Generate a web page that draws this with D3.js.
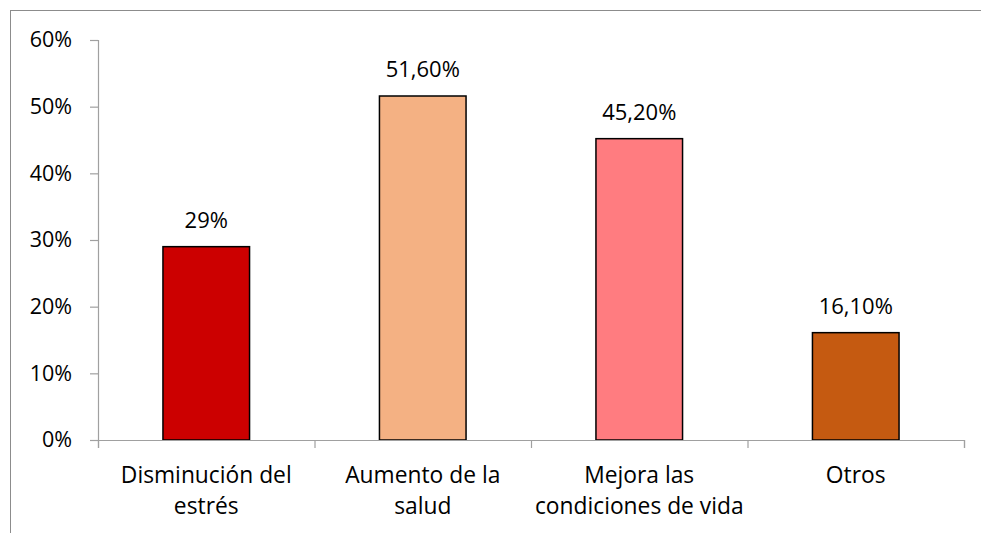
<!DOCTYPE html>
<html><head><meta charset="utf-8">
<script src="https://cdn.jsdelivr.net/npm/d3@7"></script>
<style>
html,body{margin:0;padding:0;background:#fff;}
svg{display:block;}
text{font-family:"Open Sans",Lato,sans-serif;fill:#000;}
</style></head>
<body>
<script>
const categories = ["Disminución del estrés", "Aumento de la salud", "Mejora las condiciones de vida", "Otros"];
const categoryLines = [["Disminución del", "estrés"], ["Aumento de la", "salud"], ["Mejora las", "condiciones de vida"], ["Otros"]];
const values = [29, 51.6, 45.2, 16.1];
const valueLabels = ["29%", "51,60%", "45,20%", "16,10%"];
const barColors = ["#CC0000", "#F4B183", "#FF7C80", "#C55A11"];
const yTicks = [0, 10, 20, 30, 40, 50, 60];

const W = 981, H = 533;
const mLeft = 98, mRight = 964, mTop = 40, mBottom = 440;
const fs = 21.5;
const ff = "'Open Sans', Lato, sans-serif";

const svg = d3.select("body").append("svg").attr("width", W).attr("height", H);

svg.append("rect").attr("x", 10.5).attr("y", 10.5).attr("width", 1000).attr("height", 600)
  .attr("fill", "none").attr("stroke", "#8c8c8c").attr("stroke-width", 1);

const y = d3.scaleLinear().domain([0, 60]).range([mBottom, mTop]);
const x = d3.scaleBand().domain(categories).range([mLeft, mRight]).paddingInner(0.6).paddingOuter(0.3);
const xIdx = d3.scaleLinear().domain([0, categories.length]).range([mLeft, mRight]);

const yAxis = svg.append("g").attr("transform", `translate(${mLeft},0)`)
  .call(d3.axisLeft(y).tickValues(yTicks).tickFormat(d => d + "%").tickSize(8).tickPadding(18));
yAxis.selectAll("text").style("font-size", fs + "px").style("font-family", ff).attr("fill", "#000");

// bars
svg.selectAll("rect.bar").data(categories).enter().append("rect").attr("class", "bar")
  .attr("x", d => x(d)).attr("width", x.bandwidth())
  .attr("y", (d, i) => y(values[i])).attr("height", (d, i) => y(0) - y(values[i]))
  .attr("fill", (d, i) => barColors[i]).attr("stroke", "#000").attr("stroke-width", 1.5);

const xAxis = svg.append("g").attr("transform", `translate(0,${mBottom})`)
  .call(d3.axisBottom(xIdx).tickValues(d3.range(categories.length + 1)).tickFormat("").tickSize(8));

[yAxis, xAxis].forEach(g => {
  g.select(".domain").attr("stroke", "#a0a0a0").attr("stroke-width", 1.2);
  g.selectAll(".tick line").attr("stroke", "#a0a0a0").attr("stroke-width", 1.2);
});

// value labels
svg.selectAll("text.val").data(categories).enter().append("text").attr("class", "val")
  .attr("x", d => x(d) + x.bandwidth() / 2).attr("y", (d, i) => y(values[i]) - 19)
  .attr("text-anchor", "middle").style("font-size", "22px").text((d, i) => valueLabels[i]);

// category labels
categories.forEach((c, i) => {
  const cx = x(c) + x.bandwidth() / 2;
  const t = svg.append("text").attr("text-anchor", "middle").style("font-size", "22.8px")
    .attr("x", cx).attr("y", 483);
  categoryLines[i].forEach((ln, j) => {
    t.append("tspan").attr("x", cx).attr("y", 483 + j * 31).text(ln);
  });
});
</script>
</body></html>
